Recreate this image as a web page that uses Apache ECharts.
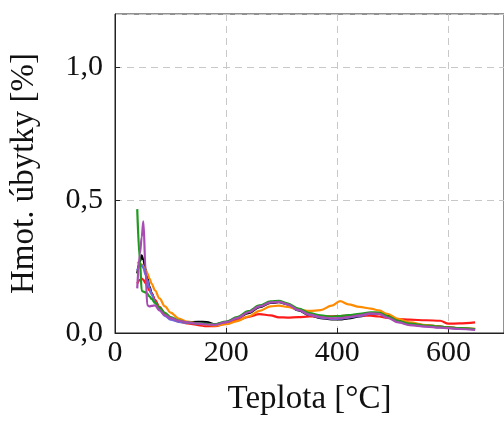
<!DOCTYPE html>
<html><head><meta charset="utf-8">
<script src="https://cdn.jsdelivr.net/npm/echarts@6/dist/echarts.min.js"></script>
<style>html,body{margin:0;padding:0;background:#fff}#c{width:504px;height:421px}</style>
</head><body><div id="c"></div>
<script>
const temps = [40, 45, 48, 51, 55, 58, 62, 66, 72, 80, 90, 100, 115, 130, 150, 165, 180, 200, 220, 240, 260, 280, 295, 310, 330, 350, 370, 390, 405, 420, 440, 460, 475, 490, 510, 530, 560, 585, 600, 620, 648];
const black = [0.224, 0.27, 0.292, 0.275, 0.24, 0.21, 0.175, 0.15, 0.12, 0.095, 0.07, 0.055, 0.045, 0.04, 0.042, 0.041, 0.033, 0.04, 0.055, 0.075, 0.097, 0.113, 0.116, 0.108, 0.085, 0.066, 0.056, 0.051, 0.051, 0.055, 0.062, 0.072, 0.075, 0.065, 0.047, 0.037, 0.029, 0.024, 0.021, 0.017, 0.014];
const green = [0.466, 0.27, 0.159, 0.156, 0.153, 0.148, 0.138, 0.128, 0.113, 0.096, 0.076, 0.06, 0.047, 0.04, 0.036, 0.034, 0.033, 0.043, 0.06, 0.082, 0.104, 0.119, 0.121, 0.112, 0.092, 0.075, 0.066, 0.062, 0.064, 0.067, 0.072, 0.078, 0.077, 0.064, 0.046, 0.035, 0.028, 0.024, 0.021, 0.018, 0.015];
const orange = [0.267, 0.262, 0.258, 0.25, 0.238, 0.225, 0.205, 0.185, 0.16, 0.13, 0.1, 0.077, 0.054, 0.043, 0.036, 0.031, 0.028, 0.033, 0.045, 0.062, 0.083, 0.1, 0.103, 0.098, 0.088, 0.083, 0.086, 0.103, 0.12, 0.108, 0.098, 0.092, 0.085, 0.072, 0.053, 0.04, 0.03, 0.024, 0.021, 0.018, 0.016];
const red = [0.186, 0.2, 0.205, 0.2, 0.188, 0.176, 0.16, 0.148, 0.125, 0.098, 0.072, 0.056, 0.043, 0.036, 0.03, 0.026, 0.026, 0.035, 0.048, 0.061, 0.071, 0.066, 0.059, 0.058, 0.06, 0.062, 0.062, 0.063, 0.064, 0.065, 0.066, 0.065, 0.062, 0.057, 0.052, 0.05, 0.048, 0.046, 0.035, 0.036, 0.04];
const blue = [0.236, 0.252, 0.255, 0.245, 0.22, 0.2, 0.17, 0.145, 0.115, 0.088, 0.064, 0.05, 0.042, 0.038, 0.036, 0.034, 0.032, 0.041, 0.057, 0.079, 0.1, 0.116, 0.118, 0.109, 0.087, 0.068, 0.058, 0.053, 0.054, 0.058, 0.064, 0.073, 0.073, 0.06, 0.042, 0.032, 0.025, 0.021, 0.019, 0.016, 0.013];
const purple = [0.168, 0.30, 0.36, 0.42, 0.24, 0.105, 0.10, 0.102, 0.104, 0.085, 0.067, 0.056, 0.046, 0.04, 0.035, 0.032, 0.031, 0.041, 0.056, 0.078, 0.1, 0.115, 0.117, 0.108, 0.087, 0.069, 0.06, 0.055, 0.056, 0.06, 0.066, 0.074, 0.072, 0.058, 0.04, 0.03, 0.024, 0.02, 0.018, 0.015, 0.012];
const xTicks = [0, 200, 400, 600];
const yTicks = [0, 0.5, 1.0];
const xTitle = 'Teplota [°C]';
const yTitle = 'Hmot. úbytky [%]';

const seriesDefs = [
  ['black', black, '#000000'],
  ['red', red, '#ff1a1a'],
  ['orange', orange, '#ff8c00'],
  ['blue', blue, '#6a6ae0'],
  ['green', green, '#1f9a1f'],
  ['purple', purple, '#a84cb4']
];
const font = 'Liberation Serif';
const chart = echarts.init(document.getElementById('c'), null, {renderer: 'canvas'});
chart.setOption({
  animation: false,
  backgroundColor: '#ffffff',
  grid: {left: 115, top: 14, width: 391, height: 321, show: true, borderColor: '#222', borderWidth: 1, containLabel: false},
  xAxis: {
    type: 'value', min: 0, max: 700, interval: 200,
    axisLine: {show: true, onZero: false, lineStyle: {color: '#222', width: 1}},
    axisTick: {show: true, inside: true, length: 5, lineStyle: {color: '#222'}},
    axisLabel: {fontFamily: font, fontSize: 30, color: '#111', margin: 5, showMaxLabel: false,
      formatter: v => xTicks.includes(v) ? String(v) : ''},
    splitLine: {show: true, lineStyle: {color: '#c8c8c8', type: [7, 5], width: 1}},
    name: xTitle, nameLocation: 'middle', nameGap: 50,
    nameTextStyle: {fontFamily: font, fontSize: 33, color: '#111'}
  },
  yAxis: {
    type: 'value', min: 0, max: 1.2, interval: 0.5,
    axisLine: {show: true, onZero: false, lineStyle: {color: '#222', width: 1}},
    axisTick: {show: true, inside: true, length: 5, lineStyle: {color: '#222'}},
    axisLabel: {fontFamily: font, fontSize: 30, color: '#111', margin: 12, showMaxLabel: false,
      formatter: v => yTicks.some(t => Math.abs(t - v) < 1e-9) ? v.toFixed(1).replace('.', ',') : ''},
    splitLine: {show: true, lineStyle: {color: '#c8c8c8', type: [7, 5], width: 1}},
    name: yTitle, nameLocation: 'middle', nameGap: 74, nameRotate: 90,
    nameTextStyle: {fontFamily: font, fontSize: 33, color: '#111'}
  },
  series: seriesDefs.map(([name, vals, color]) => ({
    name, type: 'line', data: temps.map((t, i) => [t, vals[i]]),
    showSymbol: false, smooth: 0.35, smoothMonotone: 'x',
    lineStyle: {color, width: 2.2}, itemStyle: {color}
  }))
});
</script></body></html>
